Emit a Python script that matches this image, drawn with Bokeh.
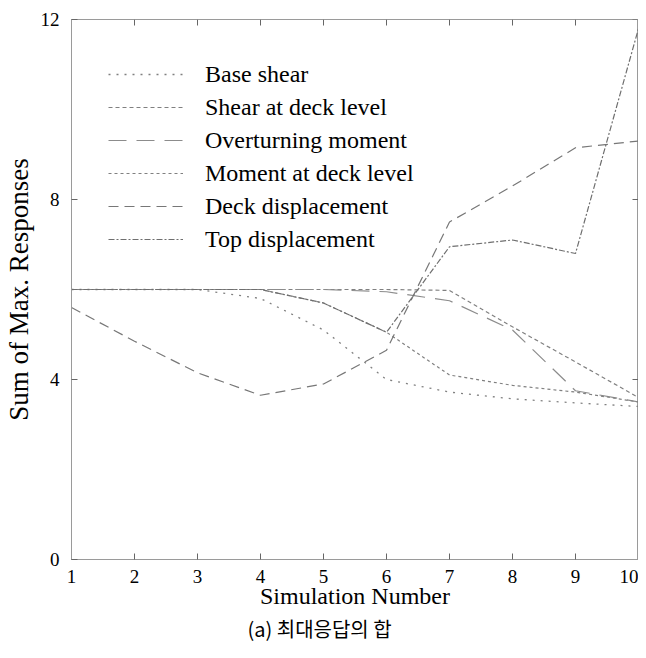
from bokeh.plotting import figure
from bokeh.models import Range1d, FixedTicker, Legend, LegendItem, Title
from bokeh.embed import file_html
from bokeh.resources import INLINE

# ---- data ----
sim = [1, 2, 3, 4, 5, 6, 7, 8, 9, 10]
base_shear = [6.0, 6.0, 6.0, 5.8, 5.1, 4.0, 3.72, 3.57, 3.48, 3.4]
shear_deck = [6.0, 6.0, 6.0, 6.0, 6.0, 6.0, 5.98, 5.17, 4.39, 3.6]
overturning = [6.0, 6.0, 6.0, 6.0, 6.0, 5.95, 5.75, 5.1, 3.75, 3.5]
moment_deck = [6.0, 6.0, 6.0, 6.0, 5.7, 5.05, 4.1, 3.87, 3.72, 3.5]
deck_disp = [5.6, 4.85, 4.15, 3.65, 3.9, 4.65, 7.5, 8.3, 9.15, 9.3]
top_disp = [6.0, 6.0, 6.0, 6.0, 5.7, 5.05, 6.95, 7.1, 6.8, 11.8]

series_names = ["Base shear", "Shear at deck level", "Overturning moment",
                "Moment at deck level", "Deck displacement", "Top displacement"]
x_ticks = [1, 2, 3, 4, 5, 6, 7, 8, 9, 10]
y_ticks = [0, 4, 8, 12]
x_min, x_max = 1, 10
y_min, y_max = 0, 12
caption = "(a) 최대응답의 합"

SERIF = "Liberation Serif"
FRAME = "#9a9a9a"
TICK = "#666666"

p = figure(width=638, height=642, x_range=Range1d(x_min, x_max), y_range=Range1d(y_min, y_max),
           output_backend="svg", toolbar_location=None,
           min_border_left=60, min_border_right=0, min_border_top=19, min_border_bottom=0)
p.xgrid.grid_line_color = None
p.ygrid.grid_line_color = None
p.outline_line_color = FRAME
p.background_fill_color = "white"
p.border_fill_color = "white"

for ax, ticks in ((p.xaxis[0], x_ticks), (p.yaxis[0], y_ticks)):
    ax.ticker = FixedTicker(ticks=ticks)
    ax.major_tick_in = 6
    ax.major_tick_out = 0
    ax.minor_tick_line_color = None
    ax.axis_line_color = FRAME
    ax.major_tick_line_color = TICK
    ax.major_label_text_font = SERIF
    ax.major_label_text_font_size = "19px"
    ax.major_label_text_color = "black"
    ax.axis_label_text_font = SERIF
    ax.axis_label_text_font_style = "normal"
    ax.axis_label_text_color = "black"

p.xaxis.axis_label = "Simulation Number"
p.yaxis.axis_label = "Sum of Max. Responses"
p.xaxis.axis_label_text_font_size = "24px"
p.yaxis.axis_label_text_font_size = "27px"
p.xaxis.major_label_standoff = 10
p.yaxis.major_label_standoff = 12
p.xaxis.axis_label_standoff = -3
p.yaxis.axis_label_standoff = 4

# inward ticks on the top and right edges of the frame
p.ray(x=x_ticks, y=[y_max] * len(x_ticks), length=6, length_units="screen",
      angle=-90, angle_units="deg", line_color=TICK, line_width=1)
p.ray(x=[x_max] * len(y_ticks), y=y_ticks, length=6, length_units="screen",
      angle=180, angle_units="deg", line_color=TICK, line_width=1)

styles = [
    dict(color="#808080", dash="2 6", width=1.3),
    dict(color="#808080", dash="4 3", width=1.2),
    dict(color="#8c8c8c", dash="18 10", width=1.2),
    dict(color="#808080", dash="3 3", width=1.2),
    dict(color="#777777", dash="10 6", width=1.2),
    dict(color="#6f6f6f", dash="6 2 2 2", width=1.2),
]
data = [base_shear, shear_deck, overturning, moment_deck, deck_disp, top_disp]

items = []
for name, ys, st in zip(series_names, data, styles):
    r = p.line(sim, ys, line_color=st["color"], line_width=st["width"], line_dash=st["dash"])
    items.append(LegendItem(label=name, renderers=[r]))

legend = Legend(items=items, location=(37, 306), border_line_color=None,
                background_fill_alpha=0, padding=0, margin=0, spacing=5,
                label_height=28, glyph_height=28, glyph_width=75, label_standoff=22,
                label_text_font=SERIF, label_text_font_size="24px", label_text_color="black")
p.add_layout(legend, "center")

cap = Title(text=caption, align="left", text_font="Noto Sans CJK KR",
            text_font_size="20px", text_font_style="normal", text_color="black",
            standoff=0, offset=176)
p.add_layout(cap, "below")

open("out.html", "w").write(file_html(p, INLINE))
